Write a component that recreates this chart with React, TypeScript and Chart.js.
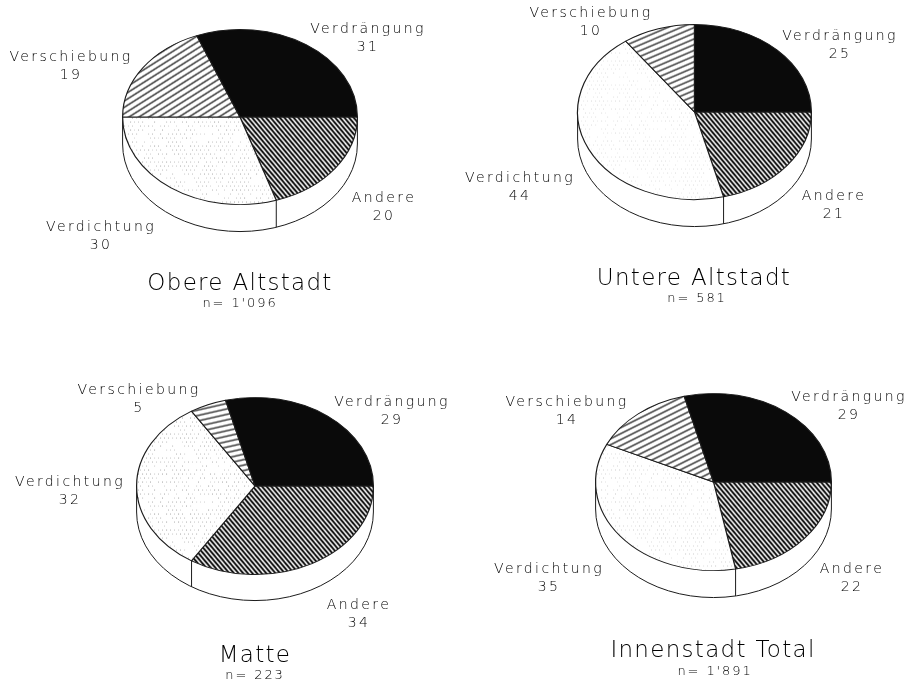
import React, { useEffect, useRef } from "react";
import { Chart, registerables } from "chart.js";

Chart.register(...registerables);

// Slice order runs clockwise from three o'clock.
const categories = ["Andere", "Verdichtung", "Verschiebung", "Verdrängung"];
const obereAltstadt = [20, 30, 19, 31];
const untereAltstadt = [21, 44, 10, 25];
const matte = [34, 32, 5, 29];
const innenstadtTotal = [22, 35, 14, 29];

const titles = ["Obere Altstadt", "Untere Altstadt", "Matte", "Innenstadt Total"];
const sampleSizes = ["n= 1'096", "n= 581", "n= 223", "n= 1'891"];

type Anchor = [number, number];

interface PieSpec {
  values: number[];
  title: string;
  sample: string;
  box: { left: number; top: number; width: number; height: number };
  disc: { cx: number; cy: number; rx: number; ry: number; depth: number };
  hatchAngle: number;
  toneStrength: number;
  // Centre of the first text line of each category label, in page pixels.
  labels: Anchor[];
  titleAt: Anchor;
  sampleAt: Anchor;
}

const specs: PieSpec[] = [
  {
    values: obereAltstadt,
    title: titles[0],
    sample: sampleSizes[0],
    box: { left: 0, top: 0, width: 453, height: 343 },
    disc: { cx: 240, cy: 117, rx: 118, ry: 88, depth: 27 },
    hatchAngle: 32,
    toneStrength: 0.34,
    labels: [[384, 198], [101, 227], [71, 57], [368, 29]],
    titleAt: [240, 284],
    sampleAt: [240, 304],
  },
  {
    values: untereAltstadt,
    title: titles[1],
    sample: sampleSizes[1],
    box: { left: 453, top: 0, width: 453, height: 343 },
    disc: { cx: 694.5, cy: 112, rx: 117.5, ry: 88, depth: 27 },
    hatchAngle: 23,
    toneStrength: 0.14,
    labels: [[834, 196], [520, 178], [591, 13], [840, 36]],
    titleAt: [694, 279],
    sampleAt: [697, 299],
  },
  {
    values: matte,
    title: titles[2],
    sample: sampleSizes[2],
    box: { left: 0, top: 343, width: 453, height: 342 },
    disc: { cx: 255, cy: 486, rx: 119, ry: 89, depth: 26 },
    hatchAngle: 14,
    toneStrength: 0.36,
    labels: [[359, 605], [70, 482], [139, 390], [392, 402]],
    titleAt: [255, 656],
    sampleAt: [255, 676],
  },
  {
    values: innenstadtTotal,
    title: titles[3],
    sample: sampleSizes[3],
    box: { left: 453, top: 343, width: 453, height: 342 },
    disc: { cx: 713.5, cy: 482, rx: 118.5, ry: 89, depth: 27 },
    hatchAngle: 27,
    toneStrength: 0.2,
    labels: [[852, 569], [549, 569], [567, 402], [849, 397]],
    titleAt: [713, 651],
    sampleAt: [715, 672],
  },
];

const INK = "#1c1c1c";
const FONT = '"DejaVu Sans"';

function tileFromPixels(
  ctx: CanvasRenderingContext2D,
  size: number,
  squash: number,
  darkness: (x: number, y: number) => number,
  ink: number
) {
  const tile = document.createElement("canvas");
  tile.width = size;
  tile.height = size;
  const t = tile.getContext("2d")!;
  const image = t.createImageData(size, size);
  for (let y = 0; y < size; y++) {
    for (let x = 0; x < size; x++) {
      const shade = Math.round(255 - (255 - ink) * darkness(x, y));
      const p = (y * size + x) * 4;
      image.data[p] = image.data[p + 1] = image.data[p + 2] = shade;
      image.data[p + 3] = 255;
    }
  }
  t.putImageData(image, 0, 0);
  const pattern = ctx.createPattern(tile, "repeat")!;
  // Undo the disc's vertical squash so that the texture stays on the pixel grid.
  pattern.setTransform(new DOMMatrix().scale(1, 1 / squash));
  return pattern;
}

// Seamless straight stripes; a positive angle rises towards the right.
function stripePattern(
  ctx: CanvasRenderingContext2D,
  period: number,
  thickness: number,
  angleDeg: number,
  squash: number,
  ink: number
) {
  const size = 120;
  const a = (angleDeg * Math.PI) / 180;
  const n = Math.round((size * Math.sin(a)) / period);
  const m = Math.round((size * Math.cos(a)) / period);
  return tileFromPixels(
    ctx,
    size,
    squash,
    (x, y) => {
      const wave = (n * (x + 0.5) + m * (y + 0.5)) / size;
      const phase = wave - Math.floor(wave);
      const d = period * Math.min(phase, 1 - phase);
      return Math.max(0, Math.min(1, thickness / 2 - d + 0.5));
    },
    ink
  );
}

// Fine screen tone: a staggered dot raster with uneven dot strength.
function tonePattern(ctx: CanvasRenderingContext2D, strength: number, squash: number) {
  const size = 96;
  const step = 4;
  const grain = (x: number, y: number) => {
    const v = Math.sin(x * 12.9898 + y * 78.233) * 43758.5453;
    return v - Math.floor(v);
  };
  return tileFromPixels(
    ctx,
    size,
    squash,
    (x, y) => {
      const row = Math.floor(y / step);
      const onDot = y % step === 0 && (x + (row % 2) * 2) % step === 0;
      if (!onDot) return 0;
      const g = grain(x, y);
      return g < 0.3 ? 0 : strength * (0.3 + g);
    },
    50
  );
}

function drawCentred(
  ctx: CanvasRenderingContext2D,
  text: string,
  x: number,
  y: number,
  size: number,
  tracking: number
) {
  ctx.font = `200 ${size}px ${FONT}`;
  (ctx as any).letterSpacing = `${tracking}px`;
  ctx.fillStyle = "#000";
  ctx.textAlign = "center";
  ctx.textBaseline = "middle";
  ctx.fillText(text, x, y);
}

function discPlugin(spec: PieSpec) {
  const { box, disc } = spec;
  const cx = disc.cx - box.left;
  const cy = disc.cy - box.top;
  return {
    id: "tiltedDisc",
    beforeDatasetsDraw(chart: Chart) {
      const ctx = chart.ctx;
      const arcs = chart.getDatasetMeta(0).data as any[];
      const rx = arcs[0].outerRadius;
      const ry = rx * (disc.ry / disc.rx);

      // Cylinder wall below the front half of the disc.
      ctx.save();
      ctx.strokeStyle = INK;
      ctx.lineWidth = 1;
      ctx.fillStyle = "#fff";
      ctx.beginPath();
      ctx.moveTo(cx - rx, cy);
      ctx.lineTo(cx - rx, cy + disc.depth);
      ctx.ellipse(cx, cy + disc.depth, rx, ry, 0, Math.PI, 0, true);
      ctx.lineTo(cx + rx, cy);
      ctx.closePath();
      ctx.fill();
      ctx.stroke();
      // Edge where the first two slices meet on the wall.
      const seam = arcs[0].endAngle;
      const sx = cx + rx * Math.cos(seam);
      const sy = cy + ry * Math.sin(seam);
      ctx.beginPath();
      ctx.moveTo(sx, sy);
      ctx.lineTo(sx, sy + disc.depth);
      ctx.stroke();
      ctx.restore();

      // Squash the round pie into the tilted top face.
      ctx.save();
      ctx.translate(cx, cy);
      ctx.scale(1, disc.ry / disc.rx);
      ctx.translate(-arcs[0].x, -arcs[0].y);
    },
    afterDatasetsDraw(chart: Chart) {
      chart.ctx.restore();
    },
    afterDraw(chart: Chart) {
      const ctx = chart.ctx;
      ctx.save();
      categories.forEach((name, i) => {
        const x = spec.labels[i][0] - box.left;
        const y = spec.labels[i][1] - box.top;
        drawCentred(ctx, name, x, y, 14, 2.4);
        drawCentred(ctx, String(spec.values[i]), x, y + 18, 14, 2.4);
      });
      drawCentred(ctx, spec.title, spec.titleAt[0] - box.left, spec.titleAt[1] - box.top, 23, 1.3);
      drawCentred(ctx, spec.sample, spec.sampleAt[0] - box.left, spec.sampleAt[1] - box.top, 13, 1.9);
      ctx.restore();
    },
  };
}

function TiltedPie({ spec }: { spec: PieSpec }) {
  const ref = useRef<HTMLCanvasElement>(null);

  useEffect(() => {
    const canvas = ref.current!;
    const ctx = canvas.getContext("2d")!;
    const { box, disc } = spec;
    const squash = disc.ry / disc.rx;
    const background = [
      stripePattern(ctx, 3.5, 1.9, -50, squash, 5),
      tonePattern(ctx, spec.toneStrength, squash),
      stripePattern(ctx, 5.3, 1.3, spec.hatchAngle, squash, 30),
      "#0a0a0a",
    ];
    const chart = new Chart(canvas, {
      type: "pie",
      data: {
        labels: categories,
        datasets: [
          {
            data: spec.values,
            backgroundColor: background as any,
            borderColor: INK,
            borderWidth: 1.2,
            hoverOffset: 0,
          },
        ],
      },
      options: {
        responsive: false,
        animation: false,
        rotation: 90,
        layout: {
          padding: {
            left: disc.cx - disc.rx - box.left,
            right: box.width - (disc.cx + disc.rx - box.left),
            top: 10,
            bottom: box.height - 10 - 2 * disc.rx,
          },
        },
        plugins: { legend: { display: false }, tooltip: { enabled: false } },
      },
      plugins: [discPlugin(spec)],
    });
    return () => chart.destroy();
  }, [spec]);

  return (
    <canvas
      ref={ref}
      width={spec.box.width}
      height={spec.box.height}
      style={{
        position: "absolute",
        left: spec.box.left,
        top: spec.box.top,
        width: spec.box.width,
        height: spec.box.height,
      }}
    />
  );
}

export default function App() {
  return (
    <div
      style={{
        position: "fixed",
        left: 0,
        top: 0,
        width: 906,
        height: 685,
        overflow: "hidden",
        background: "#fff",
      }}
    >
      {specs.map((spec) => (
        <TiltedPie key={spec.title} spec={spec} />
      ))}
    </div>
  );
}
